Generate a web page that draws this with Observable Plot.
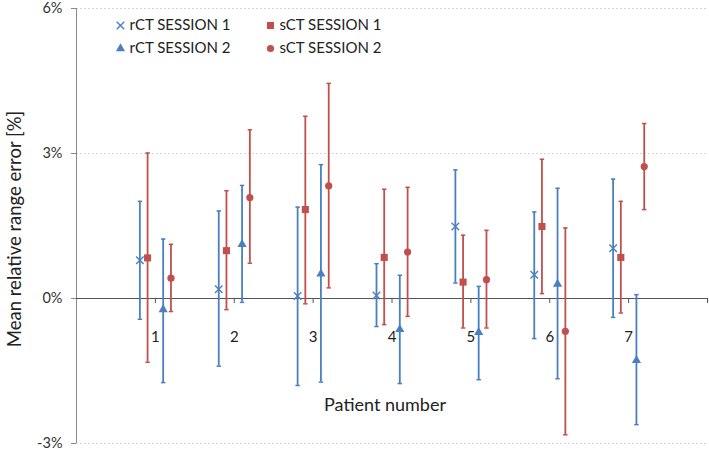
<!DOCTYPE html>
<html><head><meta charset="utf-8">
<script src="https://cdn.jsdelivr.net/npm/d3@7"></script>
<script src="https://cdn.jsdelivr.net/npm/@observablehq/plot@0.6"></script>
<style>body{margin:0;background:#fff;} #chart svg{display:block;}</style>
</head><body><div id="chart"></div>
<script>
const patients = [1, 2, 3, 4, 5, 6, 7];
const xTicks = [1, 2, 3, 4, 5, 6, 7, 8];
const yTicks = [-3, 0, 3, 6];
const gridTicks = [-3, 3, 6];
const yLabel = "Mean relative range error [%]";
const xLabel = "Patient number";

const rct1Mean = [0.79, 0.19, 0.05, 0.06, 1.49, 0.49, 1.04];
const rct1Low  = [-0.43, -1.40, -1.80, -0.58, 0.32, -0.83, -0.39];
const rct1High = [2.01, 1.81, 1.89, 0.72, 2.66, 1.79, 2.47];

const sct1Mean = [0.84, 0.99, 1.84, 0.85, 0.34, 1.49, 0.85];
const sct1Low  = [-1.32, -0.23, -0.11, -0.54, -0.61, 0.10, -0.30];
const sct1High = [3.01, 2.23, 3.77, 2.26, 1.31, 2.88, 2.01];

const rct2Mean = [-0.23, 1.12, 0.51, -0.64, -0.70, 0.30, -1.28];
const rct2Low  = [-1.74, -0.08, -1.73, -1.76, -1.68, -1.66, -2.61];
const rct2High = [1.23, 2.34, 2.77, 0.48, 0.25, 2.28, 0.08];

const sct2Mean = [0.42, 2.09, 2.33, 0.96, 0.39, -0.68, 2.73];
const sct2Low  = [-0.27, 0.73, 0.22, -0.37, -0.61, -2.82, 1.84];
const sct2High = [1.12, 3.49, 4.45, 2.30, 1.41, 1.46, 3.62];

const seriesNames = ["rCT SESSION 1", "sCT SESSION 1", "rCT SESSION 2", "sCT SESSION 2"];

const BLUE = "#4a7fc1";
const RED = "#c0504d";
const FONT = "Lato, 'Open Sans', sans-serif";

const cap = {draw(ctx) { ctx.moveTo(-2.2, 0); ctx.lineTo(2.2, 0); }};

const series = [
  {name: seriesNames[0], mean: rct1Mean, lo: rct1Low, hi: rct1High, color: BLUE, symbol: "times", dx: -15.5, r: 3.5, hollow: true},
  {name: seriesNames[1], mean: sct1Mean, lo: sct1Low, hi: sct1High, color: RED, symbol: "square", dx: -7.8, r: 4.0},
  {name: seriesNames[2], mean: rct2Mean, lo: rct2Low, hi: rct2High, color: BLUE, symbol: "triangle", dx: 7.8, r: 3.4},
  {name: seriesNames[3], mean: sct2Mean, lo: sct2Low, hi: sct2High, color: RED, symbol: "circle", dx: 15.6, r: 3.6}
];

const legendPos = [[44, 17], [194, 17], [44, 40], [194, 40]];

const marks = [
  Plot.ruleY(gridTicks, {stroke: "#d4d4d4", strokeDasharray: "2,2", strokeWidth: 1}),
  Plot.ruleX([0], {stroke: "#8a8a8a", strokeWidth: 1}),
  Plot.axisY({ticks: yTicks, tickFormat: d => d + "%", tickSize: 5, tickPadding: 9, stroke: "#8a8a8a", fill: "#333", fontSize: 14.5, label: null}),
  Plot.ruleY([0], {stroke: "#555", strokeWidth: 1}),
  Plot.ruleX(xTicks, {x: d => d, y1: 0, y2: 0, insetBottom: -5, stroke: "#555", strokeWidth: 1}),
  Plot.text(patients, {x: d => d, y: 0, dy: 39, text: d => String(d), fill: "#222", fontSize: 15}),
  Plot.text([xLabel], {frameAnchor: "bottom", dx: -7, dy: -38, textAnchor: "middle", lineAnchor: "middle", fill: "#222", fontSize: 18}),
  Plot.text([yLabel], {frameAnchor: "left", dx: -61, dy: 3, rotate: -90, textAnchor: "middle", lineAnchor: "middle", fill: "#222", fontSize: 18.5})
];

for (const s of series) {
  const rows = patients.map((p, i) => ({patient: p, mean: s.mean[i], lo: s.lo[i], hi: s.hi[i]}));
  marks.push(
    Plot.ruleX(rows, {x: "patient", y1: "lo", y2: "hi", stroke: s.color, strokeWidth: 1.8, dx: s.dx}),
    Plot.dot(rows, {x: "patient", y: "lo", symbol: cap, r: 3, fill: "none", stroke: s.color, strokeWidth: 1.5, dx: s.dx}),
    Plot.dot(rows, {x: "patient", y: "hi", symbol: cap, r: 3, fill: "none", stroke: s.color, strokeWidth: 1.5, dx: s.dx}),
    s.hollow
      ? Plot.dot(rows, {x: "patient", y: "mean", symbol: s.symbol, r: s.r, fill: "none", stroke: s.color, strokeWidth: 1.4, dx: s.dx})
      : Plot.dot(rows, {x: "patient", y: "mean", symbol: s.symbol, r: s.r, fill: s.color, stroke: "none", dx: s.dx})
  );
}

series.forEach((s, k) => {
  const [lx, ly] = legendPos[k];
  marks.push(
    s.hollow
      ? Plot.dot([s.name], {frameAnchor: "top-left", dx: lx, dy: ly, symbol: s.symbol, r: s.r, fill: "none", stroke: s.color, strokeWidth: 1.4})
      : Plot.dot([s.name], {frameAnchor: "top-left", dx: lx, dy: ly, symbol: s.symbol, r: s.r, fill: s.color, stroke: "none"}),
    Plot.text([s.name], {frameAnchor: "top-left", dx: lx + 9, dy: ly, text: d => d, textAnchor: "start", lineAnchor: "middle", fill: "#222", fontSize: 15})
  );
});

const chart = Plot.plot({
  width: 709,
  height: 452,
  marginLeft: 76,
  marginRight: 2,
  marginTop: 8,
  marginBottom: 9,
  x: {domain: [0, 8], axis: null},
  y: {domain: [-3, 6], axis: null},
  style: {fontFamily: FONT, fontSize: "15px", background: "#fff", color: "#222", overflow: "visible"},
  marks
});
document.getElementById("chart").append(chart);
</script>
</body></html>
